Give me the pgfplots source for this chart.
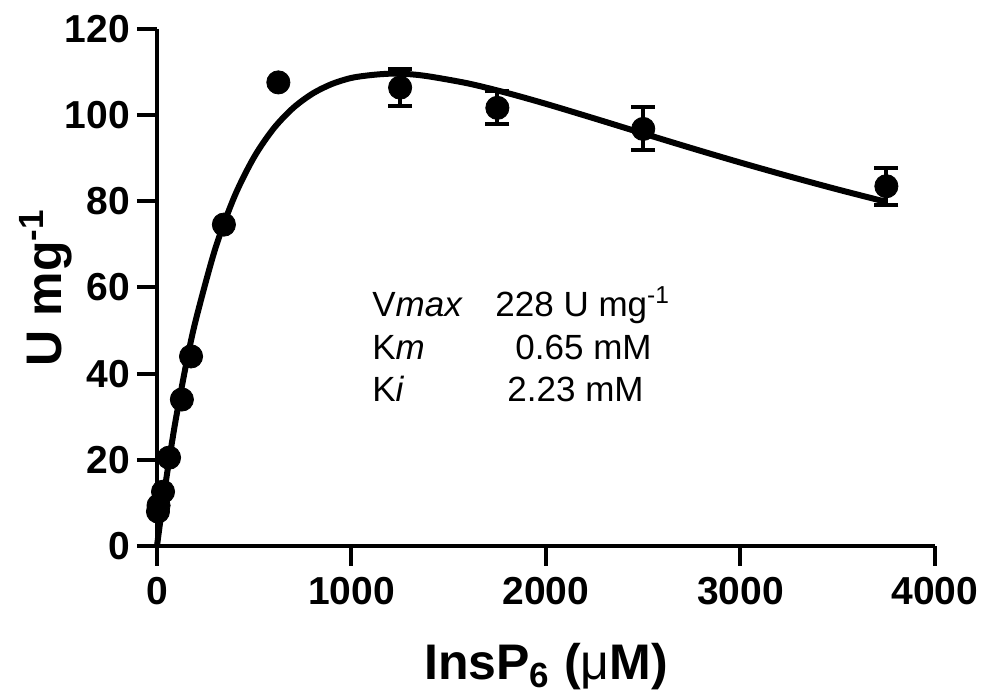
\documentclass[border=0pt]{standalone}
\usepackage{fontspec}
\setmainfont{Liberation Sans}
\usepackage{pgfplots}
\pgfplotsset{compat=1.18}

\begin{document}
\begin{tikzpicture}
\begin{axis}[
    at={(0,0)}, anchor=south west,
    scale only axis,
    width=389pt, height=258.5pt,
    xmin=0, xmax=4000,
    ymin=0, ymax=120,
    xtick={0,1000,2000,3000,4000},
    ytick={0,20,40,60,80,100,120},
    axis lines=left,
    axis line style={-, line width=2pt},
    tick align=outside,
    major tick length=10pt,
    major tick style={line width=2pt, black},
    /pgf/number format/1000 sep={},
    /pgf/number format/assume math mode=true,
    tick label style={font=\bfseries\fontsize{19.5}{22}\selectfont},
    xticklabel style={yshift=-2pt},
    xlabel={\textbf{InsP\textsubscript{6} ({\mdseries μ}M)}},
    ylabel={\textbf{U mg\textsuperscript{-1}}},
    xlabel style={font=\fontsize{25}{30}\selectfont, at={(axis description cs:0.5,0)}, anchor=base, yshift=-67pt},
    ylabel style={font=\fontsize{25}{30}\selectfont, at={(axis description cs:0,0.5)}, anchor=base, yshift=47.5pt},
    clip=false,
]
% fitted curve
\addplot[black, line width=3pt, smooth, no marks] coordinates {
    (0,0) (10,3.45) (25,8.44) (50,16.26) (75,23.5) (100,30.22) (150,42.22)
    (200,52.54) (300,69.07) (400,81.30) (500,90.32) (600,96.92) (700,101.67)
    (800,105.01) (900,107.25) (1000,108.65) (1100,109.3) (1200,109.63) (1300,109.5) (1400,108.98)
    (1600,107.36) (1800,105.15) (2000,102.62) (2250,99.22) (2500,95.75)
    (2750,92.32) (3000,88.99) (3250,85.80) (3500,82.75) (3750,79.86)
};
% points without visible error bars
\addplot[only marks, mark=*, mark size=5.8pt, black] coordinates {
    (5,8.0) (8,9.4) (31,12.6) (62,20.5) (128,34.0) (175,44.0) (344,74.6) (624,107.6)
};
% points with error bars
\addplot[only marks, mark=*, mark size=5.8pt, black,
    error bars/.cd, y dir=both, y explicit,
    error bar style={line width=2pt, black},
    error mark options={rotate=90, mark size=6pt, line width=2pt, black}]
    coordinates {
    (1250,106.4) +- (0,4.2)
    (1750,101.7) +- (0,3.8)
    (2500,96.8) +- (0,5.0)
    (3750,83.5) +- (0,4.3)
};
\begin{scope}[every node/.style={anchor=base west, inner sep=0pt, font=\fontsize{17.5}{20}\selectfont}]
\node at (axis cs:1105,53.3) {V\textit{max}};
\node at (axis cs:1105,43.3) {K\textit{m}};
\node at (axis cs:1105,33.5) {K\textit{i}};
\node at (axis cs:1738,53.3) {228 U mg\textsuperscript{-1}};
\node at (axis cs:1841,43.3) {0.65 mM};
\node at (axis cs:1800,33.5) {2.23 mM};
\end{scope}
\end{axis}
\pgfresetboundingbox
\path[use as bounding box] (-78.5pt,-74pt) rectangle (417.5pt,273pt);
\end{tikzpicture}
\end{document}
